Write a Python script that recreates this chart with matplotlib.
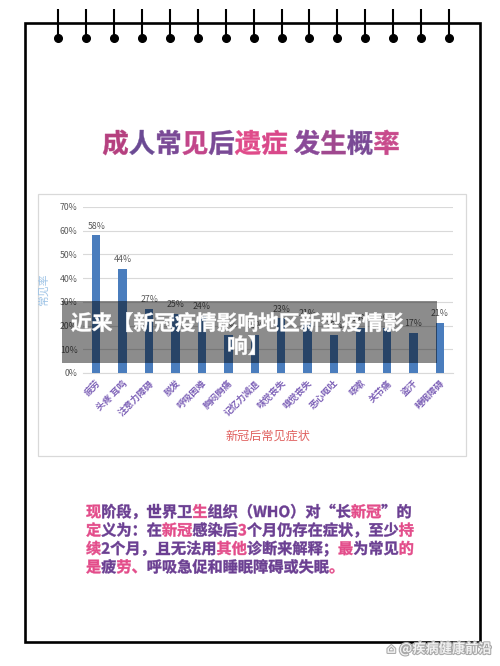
"""
Gráfico: 成人常见后遗症 发生概率 (cuaderno de espiral con barras).
"""
import matplotlib
matplotlib.use("Agg")
import matplotlib.pyplot as plt
from matplotlib import font_manager as fm
from matplotlib.ft2font import FT2Font
from matplotlib.textpath import TextPath
from matplotlib.patches import PathPatch, Rectangle
from matplotlib.transforms import Affine2D
import matplotlib.patheffects as pe

plt.rcParams['font.family'] = ['Noto Sans CJK SC', 'DejaVu Sans']

# -------------------------------
# Datos
# -------------------------------
symptoms = ["疲劳", "头疼 耳鸣", "注意力障碍", "脱发", "呼吸困难", "胸闷胸痛", "记忆力减退",
            "味觉丧失", "嗅觉丧失", "恶心呕吐", "咳嗽", "关节痛", "盗汗", "睡眠障碍"]
rates = [58, 44, 27, 25, 24, 16, 16, 23, 21, 16, 19, 19, 17, 21]
y_ticks = [0, 10, 20, 30, 40, 50, 60, 70]

title = "成人常见后遗症 发生概率"
banner_lines = ["近来【新冠疫情影响地区新型疫情影", "响】"]
note_lines = ["现阶段，世界卫生组织（WHO）对“长新冠”的",
              "定义为：在新冠感染后3个月仍存在症状，至少持",
              "续2个月，且无法用其他诊断来解释；最为常见的",
              "是疲劳、呼吸急促和睡眠障碍或失眠。"]
# posiciones (índices) de los caracteres en rosa
note_pink = [{0, 7, 18, 19, 22}, {0, 5, 6, 10, 21}, {0, 9, 10, 17, 21}, {0, 2, 3, 16}]

PURPLE = "#6b3f92"
PINK = "#e34c8a"
BAR = "#4a7dbd"

# -------------------------------
# Texto por carácter (colores distintos)
# -------------------------------
BOLD = fm.FontProperties(family='Noto Sans CJK SC', weight='bold')
_font = FT2Font(fm.findfont(BOLD))


def advance(ch, size):
    _font.set_size(size, 72)
    return _font.load_char(ord(ch)).linearHoriAdvance / 65536


def draw_chars(ax, x, y, text, colors, size, align='left'):
    """y = línea base en píxeles (eje y hacia abajo)."""
    adv = [advance(c, size) for c in text]
    if align == 'center':
        x -= sum(adv) / 2
    for ch, a, col in zip(text, adv, colors):
        if ch.strip():
            p = TextPath((0, 0), ch, size=size, prop=BOLD)
            p = p.transformed(Affine2D().scale(1, -1).translate(x, y))
            ax.add_patch(PathPatch(p, fc=col, ec=col, lw=0.3, zorder=5))
        x += a


W, H = 500, 666
fig = plt.figure(figsize=(W / 100, H / 100), dpi=100)
fig.patch.set_facecolor("white")

# fondo en coordenadas de píxel
bg = fig.add_axes([0, 0, 1, 1])
bg.set_xlim(0, W)
bg.set_ylim(H, 0)
bg.axis("off")

# marco del cuaderno
bg.add_patch(Rectangle((25, 23), 455, 619, fill=False, ec="black", lw=1.9))
for i in range(15):
    xs = 58.3 + i * 27.9
    bg.plot([xs, xs], [9, 38], color="black", lw=1.5, solid_capstyle="butt")
    bg.plot(xs, 38, "o", color="black", ms=5.5)

# título
title_cols = ["#b5407f", "#6b4a94", "#7a4a96", "#c2468a", "#7a4a96", "#e04b8a",
              "#d9488a", "#ffffff", "#8a4a98", "#a0488f", "#7a4a96", "#c84a8c"]
draw_chars(bg, 251, 152.5, title, title_cols, 26.5, align='center')

# caja del gráfico
bg.add_patch(Rectangle((38, 194), 428, 262, fill=False, ec="#d9d9d9", lw=0.9))

# -------------------------------
# Gráfico de barras
# -------------------------------
ax = fig.add_axes([83 / W, 1 - 373 / H, 370 / W, 166 / H])
x = list(range(len(symptoms)))
ax.bar(x, rates, width=0.32, color=BAR, zorder=3)
for xi, v in zip(x, rates):
    ax.annotate(f"{v}%", (xi, v), xytext=(0, 3.5), textcoords="offset points",
                ha="center", va="bottom", fontsize=6.3, color="#595959")
ax.set_xlim(-0.5, len(symptoms) - 0.5)
ax.set_ylim(0, 70)
ax.set_yticks(y_ticks)
ax.set_yticklabels([f"{t}%" for t in y_ticks], fontsize=6.3, color="#595959")
ax.yaxis.grid(True, color="#d9d9d9", lw=0.8, zorder=0)
ax.set_xticks(x)
ax.set_xticklabels(symptoms, rotation=45, ha="right", rotation_mode="anchor",
                   fontsize=6.6, color="#7f63b8", fontweight="bold")
ax.tick_params(length=0, pad=4)
for s in ["top", "right", "left"]:
    ax.spines[s].set_visible(False)
ax.spines["bottom"].set_color("#d9d9d9")
ax.set_facecolor("none")

bg.text(44, 290, "常见率", rotation=90, ha="center", va="center",
        fontsize=7.8, color="#9dc3e6")
bg.text(268, 436, "新冠后常见症状", ha="center", va="center",
        fontsize=8.7, color="#e0605e")

# -------------------------------
# Banda superpuesta
# -------------------------------
ov = fig.add_axes([0, 0, 1, 1])
ov.set_xlim(0, W)
ov.set_ylim(H, 0)
ov.axis("off")
ov.add_patch(Rectangle((62, 301), 375, 62, fc="black", alpha=0.45, lw=0))
draw_chars(ov, 71, 330, banner_lines[0], ["white"] * len(banner_lines[0]), 20.8)
draw_chars(ov, 227, 353, banner_lines[1], ["white"] * len(banner_lines[1]), 20.8)

# párrafo inferior
for i, (line, pink) in enumerate(zip(note_lines, note_pink)):
    cols = [PINK if k in pink else PURPLE for k in range(len(line))]
    draw_chars(ov, 86, 517 + i * 18.4, line, cols, 15.2)

# marca de agua
ov.text(492, 649, "⌂ @疾病健康前沿", ha="right", va="center", fontsize=9.5,
        color="#f2f2f2", fontweight="bold",
        path_effects=[pe.withStroke(linewidth=1.5, foreground="#a8a8a8")])

fig.savefig("out.png", dpi=100)
